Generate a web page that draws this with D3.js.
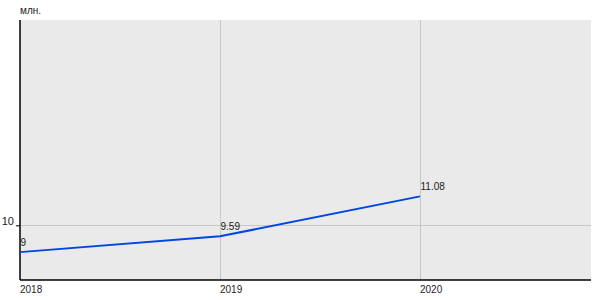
<!DOCTYPE html>
<html>
<head>
<meta charset="utf-8">
<script src="https://cdn.jsdelivr.net/npm/d3@7"></script>
<style>
  body { margin: 0; background: #fff; }
  svg { display: block; }
</style>
</head>
<body>
<div id="chart"></div>
<script>
const years = [2018, 2019, 2020]
const values = [9, 9.59, 11.08]
const valueLabels = ['9', '9.59', '11.08']
const yTicks = [10]
const unitLabel = 'млн.'

const width = 600
const height = 300
const padding = { top: 20, right: 9, bottom: 20, left: 20 }
const innerWidth = width - padding.left - padding.right
const innerHeight = height - padding.top - padding.bottom

const svg = d3.select('#chart').
    append('svg').
    attr('width', width).
    attr('height', height).
    attr('font-family', 'Liberation Sans, Arial, sans-serif')

const g = svg.append('g').
    attr('transform', `translate(${padding.left}, ${padding.top})`)

const x = d3.scaleLinear().domain([2018, 2020.855]).range([0, innerWidth])
const y = d3.scaleLinear().domain([7.96, 17.66]).range([innerHeight, 0])

// background
g.append('rect').
    attr('width', innerWidth).
    attr('height', innerHeight).
    attr('fill', '#eaeaea')

// vertical grid
g.selectAll().
    data(years.slice(1)).
    enter().
    append('line').
    attr('x1', d => Math.round(x(d)) + 0.5).
    attr('x2', d => Math.round(x(d)) + 0.5).
    attr('y1', 0).
    attr('y2', innerHeight).
    attr('stroke', '#c8c8c8')

// horizontal grid
g.selectAll().
    data(yTicks).
    enter().
    append('line').
    attr('x1', 0).
    attr('x2', innerWidth).
    attr('y1', d => Math.round(y(d)) + 0.5).
    attr('y2', d => Math.round(y(d)) + 0.5).
    attr('stroke', '#c8c8c8')

// y axis
const yAxis = g.append('g').
    call(d3.axisLeft(y).tickValues(yTicks).tickSize(4).tickSizeOuter(0))
yAxis.select('.domain').remove()
yAxis.selectAll('.tick line').attr('stroke', '#000')
yAxis.selectAll('.tick text').
    attr('x', -6).
    attr('dy', '-0.05em').
    attr('font-size', 11).
    attr('font-family', 'Liberation Sans, Arial, sans-serif').
    attr('fill', '#222')

// axis lines
g.append('line').
    attr('x1', 0).attr('x2', 0).
    attr('y1', 0).attr('y2', innerHeight).
    attr('stroke', '#000').attr('stroke-width', 1.5)
g.append('line').
    attr('x1', 0).attr('x2', innerWidth).
    attr('y1', innerHeight).attr('y2', innerHeight).
    attr('stroke', '#000').attr('stroke-width', 1.5)

// x labels
g.selectAll().
    data(years).
    enter().
    append('text').
    text(d => d).
    attr('x', d => x(d)).
    attr('y', innerHeight + 13).
    attr('font-size', 10).
    attr('fill', '#222')

// line
const line = d3.line().
    x((d, i) => x(years[i])).
    y(d => y(d))

g.append('path').
    datum(values).
    attr('d', line).
    attr('fill', 'none').
    attr('stroke', '#0047e0').
    attr('stroke-width', 2)

// value labels
g.selectAll().
    data(values).
    enter().
    append('text').
    text((d, i) => valueLabels[i]).
    attr('x', (d, i) => x(years[i]) + 0.5).
    attr('y', d => y(d) - 6).
    attr('font-size', 10).
    attr('fill', '#222')

// unit
svg.append('text').
    text(unitLabel).
    attr('x', 20).
    attr('y', 14).
    attr('font-size', 10).
    attr('fill', '#222')
</script>
</body>
</html>
